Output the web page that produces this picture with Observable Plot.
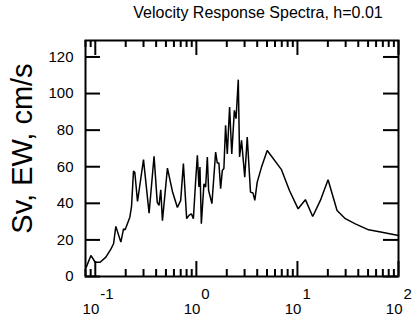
<!DOCTYPE html>
<html>
<head>
<meta charset="utf-8">
<script src="https://cdn.jsdelivr.net/npm/d3@7"></script>
<script src="https://cdn.jsdelivr.net/npm/@observablehq/plot@0.6"></script>
<style>
  html, body { margin: 0; padding: 0; background: #fff; }
  #wrap { width: 412px; height: 316px; position: relative; font-family: "Liberation Sans", Arial, sans-serif; }
  #title { position: absolute; left: 108px; width: 300px; top: 4px; text-align: center; font-size: 16px; color: #000; white-space: nowrap; }
  #chart { position: absolute; left: 0; top: 24px; }
  text[aria-label="y-title"], g[aria-label="y-title"] text { letter-spacing: 2.5px; }
</style>
</head>
<body>
<div id="wrap">
  <div id="title"></div>
  <div id="chart"></div>
</div>
<script>
const titleText = "Velocity Response Spectra, h=0.01";
const yLabel = "Sv, EW, cm/s";

// Period (s) and velocity response (cm/s)
const periods = [0.0813, 0.0905, 0.0998, 0.1117, 0.1273, 0.1426, 0.1516, 0.1597, 0.179, 0.1903,
  0.1973, 0.2197, 0.2283, 0.2388, 0.246, 0.2616, 0.2999, 0.3406, 0.3814, 0.4102,
  0.4272, 0.4444, 0.4616, 0.5173, 0.5798, 0.6491, 0.6998, 0.7443, 0.8017, 0.8455,
  0.8928, 0.9342, 0.9843, 1.023, 1.061, 1.085, 1.12, 1.189, 1.235, 1.284,
  1.322, 1.425, 1.551, 1.611, 1.671, 1.738, 1.806, 1.872, 1.946, 2.023,
  2.132, 2.24, 2.377, 2.471, 2.599, 2.676, 2.8, 3.011, 3.187, 3.434,
  3.636, 3.788, 4.0, 4.413, 5.023, 6.953, 8.337, 10.16, 11.99, 14.16,
  16.87, 20.1, 24.66, 29.77, 37.38, 50.61, 68.58, 100];
const sv = [5, 11.5, 7.8, 7.8, 10.6, 15, 17.9, 27.4, 18.8, 26,
  25.5, 32.4, 38.3, 57.6, 57, 41, 63.9, 34.6, 65.7, 40.5,
  38.9, 47.4, 30.5, 59.2, 46.5, 37.7, 41.6, 61.7, 31.6, 33.4,
  34.3, 31.6, 52.5, 66.2, 49, 59.8, 28.8, 50.7, 48.9, 65.3,
  47, 39.8, 68, 62, 62, 48, 58, 59, 82.6, 67,
  92.6, 67, 90.8, 86.3, 107.6, 65.3, 74.4, 54.3, 76.2, 46.1,
  45.6, 41.6, 51.6, 59.8, 68.9, 58.4, 47, 37, 42, 32.8,
  41.6, 52.9, 36.1, 31.6, 28.8, 25.5, 24.2, 22.4];

const xMajor = [0.1, 1, 10, 100];
const xExp = ["-1", "0", "1", "2"];
const xMinor = [0.08, 0.09, 0.2, 0.3, 0.4, 0.5, 0.6, 0.7, 0.8, 0.9,
  2, 3, 4, 5, 6, 7, 8, 9, 20, 30, 40, 50, 60, 70, 80, 90];
const yTicks = [0, 20, 40, 60, 80, 100, 120];
const yMax = 129;

const data = periods.map((p, i) => ({p, v: sv[i]}));
document.getElementById("title").textContent = titleText;

const W = 412, H = 292;
const mL = 85, mR = 14, mT = 16, mB = 40;
const pw = W - mL - mR, ph = H - mT - mB;
const majorLen = 15, minorLen = 7;
// tick lengths converted from pixels to y units
const majU = majorLen * yMax / ph, minU = minorLen * yMax / ph;
const font = "Liberation Sans, Arial, sans-serif";
const tickStyle = {stroke: "#000", strokeWidth: 2, strokeOpacity: 1};

const chart = Plot.plot({
  width: W, height: H,
  marginLeft: mL, marginRight: mR, marginTop: mT, marginBottom: mB,
  style: {fontFamily: font, background: "white", color: "black"},
  x: {type: "log", domain: [0.08, 100], axis: null},
  y: {domain: [0, yMax], axis: null},
  marks: [
    // data line
    Plot.line(data, {x: "p", y: "v", stroke: "black", strokeWidth: 1.5, strokeLinejoin: "miter"}),
    // bottom ticks (inward)
    Plot.ruleX(xMajor, {x: d => d, y1: 0, y2: majU, ...tickStyle}),
    Plot.ruleX(xMinor, {x: d => d, y1: 0, y2: minU, ...tickStyle}),
    // top ticks (inward)
    Plot.ruleX(xMajor, {x: d => d, y1: yMax - majU, y2: yMax, ...tickStyle}),
    Plot.ruleX(xMinor, {x: d => d, y1: yMax - minU, y2: yMax, ...tickStyle}),
    // left / right ticks (inward)
    Plot.tickY(yTicks, {y: d => d, insetRight: pw - majorLen, ...tickStyle}),
    Plot.tickY(yTicks, {y: d => d, insetLeft: pw - majorLen, ...tickStyle}),
    Plot.frame({stroke: "black", strokeWidth: 2}),
    // y tick labels
    Plot.text(yTicks, {y: d => d, text: d => String(d), frameAnchor: "left", textAnchor: "end", dx: -12, fontSize: 15, fill: "black"}),
    // x tick labels: 10 with superscript exponent
    Plot.text(xMajor, {x: d => d, text: () => "10", frameAnchor: "bottom", textAnchor: "end", lineAnchor: "bottom", dx: 4, dy: 37, fontSize: 15, fill: "black"}),
    Plot.text(xMajor, {x: d => d, text: (d, i) => xExp[i], frameAnchor: "bottom", textAnchor: "start", lineAnchor: "bottom", dx: 5, dy: 22, fontSize: 15, fill: "black"}),
    // y axis title
    Plot.text([yLabel], {text: d => d, frameAnchor: "left", textAnchor: "middle", rotate: -90, dx: -63, dy: -10, fontSize: 29, fill: "black", ariaLabel: "y-title"})
  ]
});
document.getElementById("chart").appendChild(chart);
</script>
</body>
</html>
